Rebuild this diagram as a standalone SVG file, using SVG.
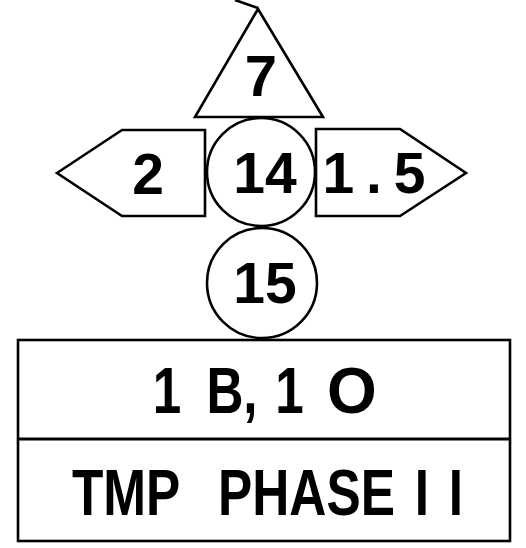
<svg xmlns="http://www.w3.org/2000/svg" width="526" height="548" viewBox="0 0 526 548">
<style>
.s{fill:#fff;stroke:#000;stroke-width:2.6;stroke-linejoin:miter}
.t{font-family:"Liberation Sans",Arial,sans-serif;font-weight:700;fill:#000;text-anchor:middle}
.b{font-family:"Liberation Sans",Arial,sans-serif;font-weight:700;fill:#000;text-anchor:start}
</style>
<rect width="526" height="548" fill="#fff"/>
<g id="connectors">
<path d="M235,0 L258,8" fill="none" stroke="#000" stroke-width="2.6"/>
</g>
<g id="tri7">
<polygon class="s" points="258,9 323,117 195,117"/>
<text class="t" x="261" y="96" font-size="58">7</text>
</g>
<g id="left2">
<polygon class="s" points="57,173 122,130 205,130 205,216 122,216"/>
<text class="t" x="148" y="194" font-size="57">2</text>
</g>
<g id="right15">
<polygon class="s" points="316,129 400,129 466,173 400,216 316,216"/>
<text class="t" x="374" y="193" font-size="57" textLength="103" lengthAdjust="spacing">1.5</text>
</g>
<g id="c14">
<circle class="s" cx="261" cy="172" r="54"/>
<text class="t" x="265" y="193" font-size="57">14</text>
</g>
<g id="c15">
<circle class="s" cx="262" cy="283" r="55"/>
<text class="t" x="265" y="303" font-size="57">15</text>
</g>
<g id="box">
<rect class="s" x="18" y="340" width="492" height="201" stroke-width="3"/>
<line x1="18" y1="439" x2="510" y2="439" stroke="#000" stroke-width="3"/>
<text class="b" y="413" font-size="64" transform="scale(0.8,1)"><tspan x="191">1</tspan><tspan x="258">B,</tspan><tspan x="344">1</tspan></text>
<text class="b" x="327" y="413" font-size="64">O</text>
<text class="b" y="515" font-size="65" transform="scale(0.79,1)"><tspan x="91">TMP</tspan><tspan x="276">PHASE</tspan><tspan x="525 568">II</tspan></text>
</g>
</svg>
